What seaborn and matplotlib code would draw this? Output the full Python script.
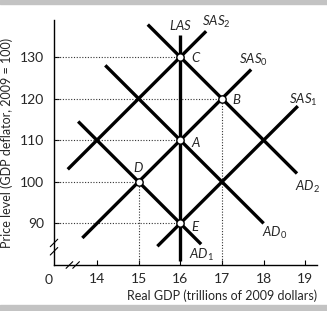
import matplotlib
matplotlib.use("Agg")
import matplotlib.pyplot as plt
from matplotlib.patches import Rectangle
import seaborn as sns
import pandas as pd

# ---- data ----
curve_names = ["LAS", "SAS0", "SAS1", "SAS2", "AD0", "AD1", "AD2"]
curve_x_start = [16.0, 13.65, 15.45, 13.30, 14.20, 13.55, 15.22]
curve_y_start = [135.3, 86.5, 84.5, 103.0, 128.0, 114.5, 137.8]
curve_x_end = [16.0, 17.70, 18.82, 16.62, 18.00, 16.50, 18.80]
curve_y_end = [81.0, 127.0, 118.2, 136.2, 90.0, 85.0, 102.0]

point_names = ["A", "B", "C", "D", "E"]
point_x = [16, 17, 16, 15, 16]
point_y = [110, 120, 130, 100, 90]

x_ticks = [14, 15, 16, 17, 18, 19]
y_ticks = [90, 100, 110, 120, 130]

curve_labels = {
    "LAS": r"$LAS$", "SAS0": r"$SAS_0$", "SAS1": r"$SAS_1$", "SAS2": r"$SAS_2$",
    "AD0": r"$AD_0$", "AD1": r"$AD_1$", "AD2": r"$AD_2$",
}

# ---- style ----
sns.set_style("ticks")
plt.rcParams["font.family"] = ["Lato", "DejaVu Sans"]
plt.rcParams["mathtext.fontset"] = "custom"
plt.rcParams["mathtext.it"] = "Lato:italic"
plt.rcParams["mathtext.rm"] = "Lato"

fig = plt.figure(figsize=(3.27, 3.11), dpi=100)
ax = fig.add_axes([54 / 327, 1 - 265 / 311, (317 - 54) / 327, (265 - 20) / 311])

xmin, xmax = 12.97, 19.28
ymin, ymax = 80.0, 138.9

rows = []
for n, xs, ys, xe, ye in zip(curve_names, curve_x_start, curve_y_start, curve_x_end, curve_y_end):
    rows.append({"curve": n, "x": xs, "y": ys})
    rows.append({"curve": n, "x": xe, "y": ye})
df = pd.DataFrame(rows)

# dotted guides
for px, py in zip(point_x, point_y):
    ax.plot([xmin, px], [py, py], ls=(0, (1, 1.5)), color="#333333", lw=0.8, zorder=1)
    if px != 16:
        ax.plot([px, px], [ymin, py], ls=(0, (1, 1.5)), color="#333333", lw=0.8, zorder=1)

sns.lineplot(data=df, x="x", y="y", units="curve", estimator=None, sort=False,
             color="black", lw=2.4, ax=ax, zorder=3, solid_capstyle="butt")

pts = pd.DataFrame({"name": point_names, "x": point_x, "y": point_y})
sns.scatterplot(data=pts, x="x", y="y", ax=ax, s=28, color="white",
                edgecolor="black", linewidth=1.0, zorder=5)

# labels for curves
fs = 9.5
ax.text(16.0, 137.8, curve_labels["LAS"], ha="center", va="center", fontsize=fs)
ax.text(16.52, 138.4, curve_labels["SAS2"], ha="left", va="center", fontsize=fs)
ax.text(17.40, 129.3, curve_labels["SAS0"], ha="left", va="center", fontsize=fs)
ax.text(18.62, 119.7, curve_labels["SAS1"], ha="left", va="center", fontsize=fs)
ax.text(18.76, 98.7, curve_labels["AD2"], ha="left", va="center", fontsize=fs)
ax.text(17.97, 87.8, curve_labels["AD0"], ha="left", va="center", fontsize=fs)
ax.text(16.20, 82.3, curve_labels["AD1"], ha="left", va="center", fontsize=fs)

for n, px, py, dx, dy, ha in [("A", 16, 110, 0.25, -0.5, "left"),
                               ("B", 17, 120, 0.24, 0.0, "left"),
                               ("C", 16, 130, 0.25, 0.0, "left"),
                               ("D", 15, 100, 0.0, 3.6, "center"),
                               ("E", 16, 90, 0.25, -0.6, "left")]:
    ax.text(px + dx, py + dy, f"${n}$", ha=ha, va="center", fontsize=fs)

ax.set_xlim(xmin, xmax)
ax.set_ylim(ymin, ymax)
ax.set_xticks(x_ticks)
ax.set_yticks(y_ticks)
ax.tick_params(direction="in", length=3.5, width=0.8, labelsize=10, pad=6, color="black")
ax.tick_params(axis="y", pad=7)
for s in ["top", "right"]:
    ax.spines[s].set_visible(False)
for s in ["left", "bottom"]:
    ax.spines[s].set_linewidth(1.0)
    ax.spines[s].set_color("black")

ax.set_xlabel("Real GDP (trillions of 2009 dollars)", fontsize=9, loc="right", labelpad=3)
ax.set_ylabel("Price level (GDP deflator, 2009 = 100)", fontsize=9, labelpad=5)

# "0" origin label
ax.text(12.83, ymin - 2.1, "0", ha="center", va="top", fontsize=10)

# axis break marks
def brk(xc, yc, horizontal):
    for off in (-0.08, 0.08) if horizontal else (-1.0, 1.0):
        if horizontal:
            ax.plot([xc + off - 0.08, xc + off + 0.08], [yc - 0.8, yc + 0.8],
                    color="black", lw=0.8, clip_on=False, zorder=6)
        else:
            ax.plot([xc - 0.09, xc + 0.09], [yc + off - 0.9, yc + off + 0.9],
                    color="black", lw=0.8, clip_on=False, zorder=6)

brk(13.42, ymin, True)
brk(xmin, 84.3, False)

# gray bands
fig.patches.append(Rectangle((0, 1 - 4 / 311), 1, 4 / 311, transform=fig.transFigure,
                             color="#c3c3c3", zorder=0))
fig.patches.append(Rectangle((0, 0), 1, 6 / 311, transform=fig.transFigure,
                             color="#c3c3c3", zorder=0))

fig.savefig("out.png", dpi=100)
